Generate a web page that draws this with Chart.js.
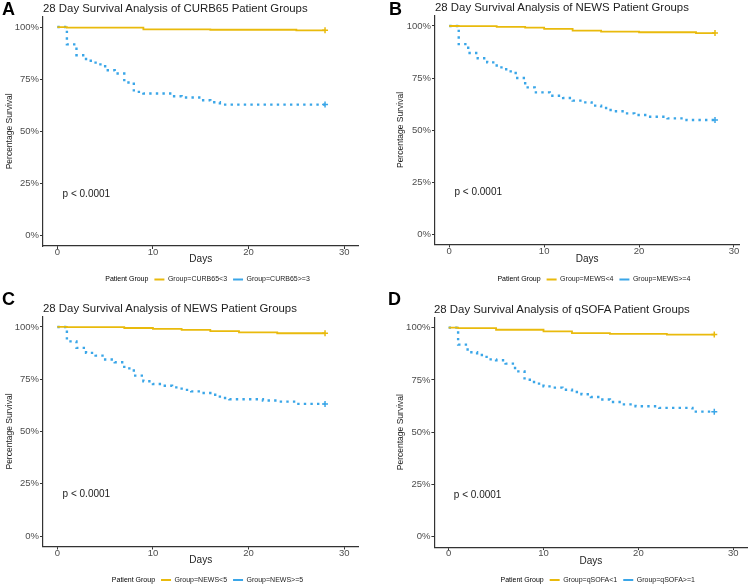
<!DOCTYPE html>
<html>
<head>
<meta charset="utf-8">
<script src="https://cdn.jsdelivr.net/npm/chart.js@4.4.1/dist/chart.umd.min.js"></script>
<style>
html, body { margin: 0; padding: 0; background: #fff; overflow: hidden; }
body { width: 753px; height: 587px; position: relative; font-family: "Liberation Sans", Arial, sans-serif; }
canvas { position: absolute; }
.letter { position: absolute; font-weight: bold; font-size: 18px; line-height: 1; color: #000; }
.title { position: absolute; font-size: 11.4px; line-height: 1; color: #222; white-space: nowrap; }
</style>
</head>
<body>
<canvas id="chartA" width="376" height="296" style="left:0;top:0"></canvas>
<canvas id="chartB" width="377" height="296" style="left:376px;top:0"></canvas>
<canvas id="chartC" width="376" height="312" style="left:0;top:286px"></canvas>
<canvas id="chartD" width="377" height="312" style="left:376px;top:286px"></canvas>

<div class="letter" style="left:2px;top:0">A</div>
<div class="letter" style="left:389px;top:0">B</div>
<div class="letter" style="left:2px;top:290px">C</div>
<div class="letter" style="left:388px;top:290px">D</div>
<div class="title" style="left:43px;top:2.5px">28 Day Survival Analysis of CURB65 Patient Groups</div>
<div class="title" style="left:435px;top:2px">28 Day Survival Analysis of NEWS Patient Groups</div>
<div class="title" style="left:43px;top:302.5px">28 Day Survival Analysis of NEWS Patient Groups</div>
<div class="title" style="left:434px;top:303.5px">28 Day Survival Analysis of qSOFA Patient Groups</div>

<script>
// axis ticks
const dayTicks = [0, 10, 20, 30];
const pctTicks = [0, 25, 50, 75, 100];

// A - CURB65
const curbLowDays  = [0, 1, 9, 16, 25, 28];
const curbLowSurv  = [100, 99.7, 98.9, 98.7, 98.4, 98.4];
const curbHighDays = [0, 1, 2, 3, 4, 5, 6, 7, 8, 9, 12, 13, 15, 16, 17, 28];
const curbHighSurv = [100, 91.7, 86.5, 83.8, 82.1, 79.3, 77.7, 73.4, 68.9, 68.1, 66.8, 66.2, 64.9, 63.9, 62.8, 62.8];

// B - MEWS
const mewsLowDays  = [0, 1, 5, 8, 10, 13, 16, 20, 26, 28];
const mewsLowSurv  = [100, 99.9, 99.6, 99.2, 98.6, 97.8, 97.3, 97.0, 96.6, 96.6];
const mewsHighDays = [0, 1, 2, 3, 4, 5, 6, 7, 8, 9, 10.6, 12, 13, 14, 15, 16, 17, 18.5, 19.5, 21, 23, 25, 28];
const mewsHighSurv = [100, 91.3, 87.0, 84.5, 82.5, 80.1, 78.2, 75.0, 70.5, 68.1, 66.5, 65.4, 64.1, 63.3, 61.7, 60.6, 59.0, 58.0, 57.2, 56.4, 55.6, 54.8, 54.8];

// C - NEWS
const newsLowDays  = [0, 1, 7, 10, 13, 16, 19, 23, 28];
const newsLowSurv  = [100, 99.9, 99.5, 99.1, 98.6, 98.0, 97.4, 97.0, 97.0];
const newsHighDays = [0, 1, 2, 3, 4, 5, 6, 7, 8, 9, 10, 11, 12, 13, 14, 15, 16, 17, 18, 21.5, 23, 25, 28];
const newsHighSurv = [100, 93.1, 90.0, 87.6, 86.3, 84.4, 83.1, 80.2, 76.7, 74.0, 72.7, 71.9, 71.1, 69.9, 69.2, 68.4, 67.6, 66.0, 65.4, 64.8, 64.3, 63.2, 63.2];

// D - qSOFA
const qsofaLowDays  = [0, 1, 5, 10, 13, 17, 23, 28];
const qsofaLowSurv  = [100, 99.8, 99.0, 98.2, 97.4, 97.0, 96.7, 96.7];
const qsofaHighDays = [0, 1, 2, 3, 4, 5, 6, 7, 8, 9, 10, 11, 12, 13, 14, 15, 16, 17, 18.2, 19.7, 22.2, 25.7, 28];
const qsofaHighSurv = [100, 91.9, 88.2, 86.9, 84.8, 84.4, 82.8, 79.1, 75.1, 73.2, 71.9, 71.3, 70.3, 69.2, 68.1, 66.8, 65.6, 64.4, 63.3, 62.4, 61.6, 59.8, 59.8];

const pvalText = 'p < 0.0001';
const pvalDay = 0.55;
const pvalPct = 20;

const YELLOW = '#E9BA0C';
const BLUE = '#3AA6E8';
const AXIS = '#333';
const LEG_PAD = 6;
const LEG_FONT = 7;
const Y_AXIS_W = 43;

Chart.defaults.font.family = '"Liberation Sans", Arial, sans-serif';

const pvalPlugin = {
  id: 'pval',
  afterDatasetsDraw(chart) {
    const {ctx, scales} = chart;
    ctx.save();
    ctx.font = '10px "Liberation Sans", Arial, sans-serif';
    ctx.fillStyle = '#222';
    ctx.textAlign = 'left';
    ctx.textBaseline = 'middle';
    ctx.fillText(pvalText, scales.x.getPixelForValue(pvalDay), scales.y.getPixelForValue(pvalPct));
    ctx.restore();
  }
};

function toPoints(days, surv) {
  return days.map((d, i) => ({x: d, y: surv[i]}));
}

function kmDataset(label, days, surv, color, dashed) {
  return {
    label: label,
    data: toPoints(days, surv),
    borderColor: color,
    backgroundColor: color,
    borderWidth: dashed ? 2.4 : 1.8,
    borderDash: dashed ? [2.4, 4.2] : [],
    stepped: true,
    pointStyle: 'cross',
    pointRadius: c => c.dataIndex === c.dataset.data.length - 1 ? 3 : 0,
    pointBorderWidth: 1.5,
    pointBorderColor: color,
    pointBackgroundColor: color
  };
}

function makeChart(id, lay, lowLabel, lowDays, lowSurv, highLabel, highDays, highSurv) {
  // chart.js horizontal legend: height = padding + itemHeight + 10, items start at top + padding
  const legH = LEG_PAD + LEG_FONT + 10;
  const legTop = lay.legY - LEG_PAD - LEG_FONT / 2;
  const xh = legTop - lay.areaB;
  const padLeft = lay.areaL - Y_AXIS_W;
  new Chart(document.getElementById(id), {
    type: 'line',
    data: {
      datasets: [
        kmDataset(lowLabel, lowDays, lowSurv, YELLOW, false),
        kmDataset(highLabel, highDays, highSurv, BLUE, true)
      ]
    },
    options: {
      responsive: false,
      animation: false,
      events: [],
      layout: {
        padding: {left: padLeft, right: lay.w - lay.areaR, top: lay.areaT, bottom: lay.h - legTop - legH}
      },
      scales: {
        x: {
          type: 'linear',
          min: -1.5,
          max: lay.xmax,
          afterBuildTicks: s => { s.ticks = dayTicks.map(v => ({value: v})); },
          afterFit: s => { s.height = xh; },
          border: {display: true, color: AXIS, width: 1.2},
          grid: {display: true, drawOnChartArea: false, drawTicks: true, tickLength: 3, color: AXIS},
          ticks: {color: '#4d4d4d', font: {size: 9.5, lineHeight: 1}, padding: -1, maxRotation: 0},
          title: {display: true, text: 'Days', color: '#222', font: {size: 10},
                  padding: {top: 0, bottom: legTop - lay.xTitleY - 6}}
        },
        y: {
          min: -5,
          max: 105,
          afterBuildTicks: s => { s.ticks = pctTicks.map(v => ({value: v})); },
          afterFit: s => { s.width = Y_AXIS_W; },
          border: {display: true, color: AXIS, width: 1.2},
          grid: {display: true, drawOnChartArea: false, drawTicks: true, tickLength: 3, color: AXIS},
          ticks: {color: '#4d4d4d', font: {size: 9.5}, padding: 1, callback: v => v + '%'},
          title: {display: true, text: 'Percentage Survival', color: '#222', font: {size: 8.5},
                  padding: {top: lay.yTitleX - padLeft - 5.1, bottom: 0}}
        }
      },
      plugins: {
        tooltip: {enabled: false},
        legend: {
          position: 'bottom',
          fullSize: false,
          labels: {
            color: '#222',
            font: {size: LEG_FONT},
            padding: LEG_PAD,
            boxWidth: 10,
            boxHeight: 2,
            generateLabels: chart => {
              const items = Chart.defaults.plugins.legend.labels.generateLabels(chart);
              items.forEach(it => { it.lineWidth = 0; it.lineDash = []; });
              return [{text: 'Patient Group', fillStyle: 'rgba(0,0,0,0)', strokeStyle: 'rgba(0,0,0,0)',
                       lineWidth: 0, hidden: false, datasetIndex: -1}].concat(items);
            }
          }
        }
      }
    },
    plugins: [pvalPlugin]
  });
}

makeChart('chartA', {w: 376, h: 296, areaL: 43, areaR: 358.5, areaT: 16.6, areaB: 246, legY: 279.5, xmax: 31.5, xTitleY: 259.3, yTitleX: 10},
  'Group=CURB65<3', curbLowDays, curbLowSurv, 'Group=CURB65>=3', curbHighDays, curbHighSurv);
makeChart('chartB', {w: 377, h: 296, areaL: 59, areaR: 363.2, areaT: 15.6, areaB: 244.4, legY: 279.5, xmax: 30.55, xTitleY: 259.3, yTitleX: 25},
  'Group=MEWS<4', mewsLowDays, mewsLowSurv, 'Group=MEWS>=4', mewsHighDays, mewsHighSurv);
makeChart('chartC', {w: 376, h: 312, areaL: 43, areaR: 358.5, areaT: 30.5, areaB: 260.5, legY: 294, xmax: 31.5, xTitleY: 274.7, yTitleX: 10},
  'Group=NEWS<5', newsLowDays, newsLowSurv, 'Group=NEWS>=5', newsHighDays, newsHighSurv);
makeChart('chartD', {w: 377, h: 312, areaL: 58.4, areaR: 372.6, areaT: 31.2, areaB: 261.1, legY: 294, xmax: 31.5, xTitleY: 275.7, yTitleX: 25},
  'Group=qSOFA<1', qsofaLowDays, qsofaLowSurv, 'Group=qSOFA>=1', qsofaHighDays, qsofaHighSurv);
</script>
</body>
</html>
